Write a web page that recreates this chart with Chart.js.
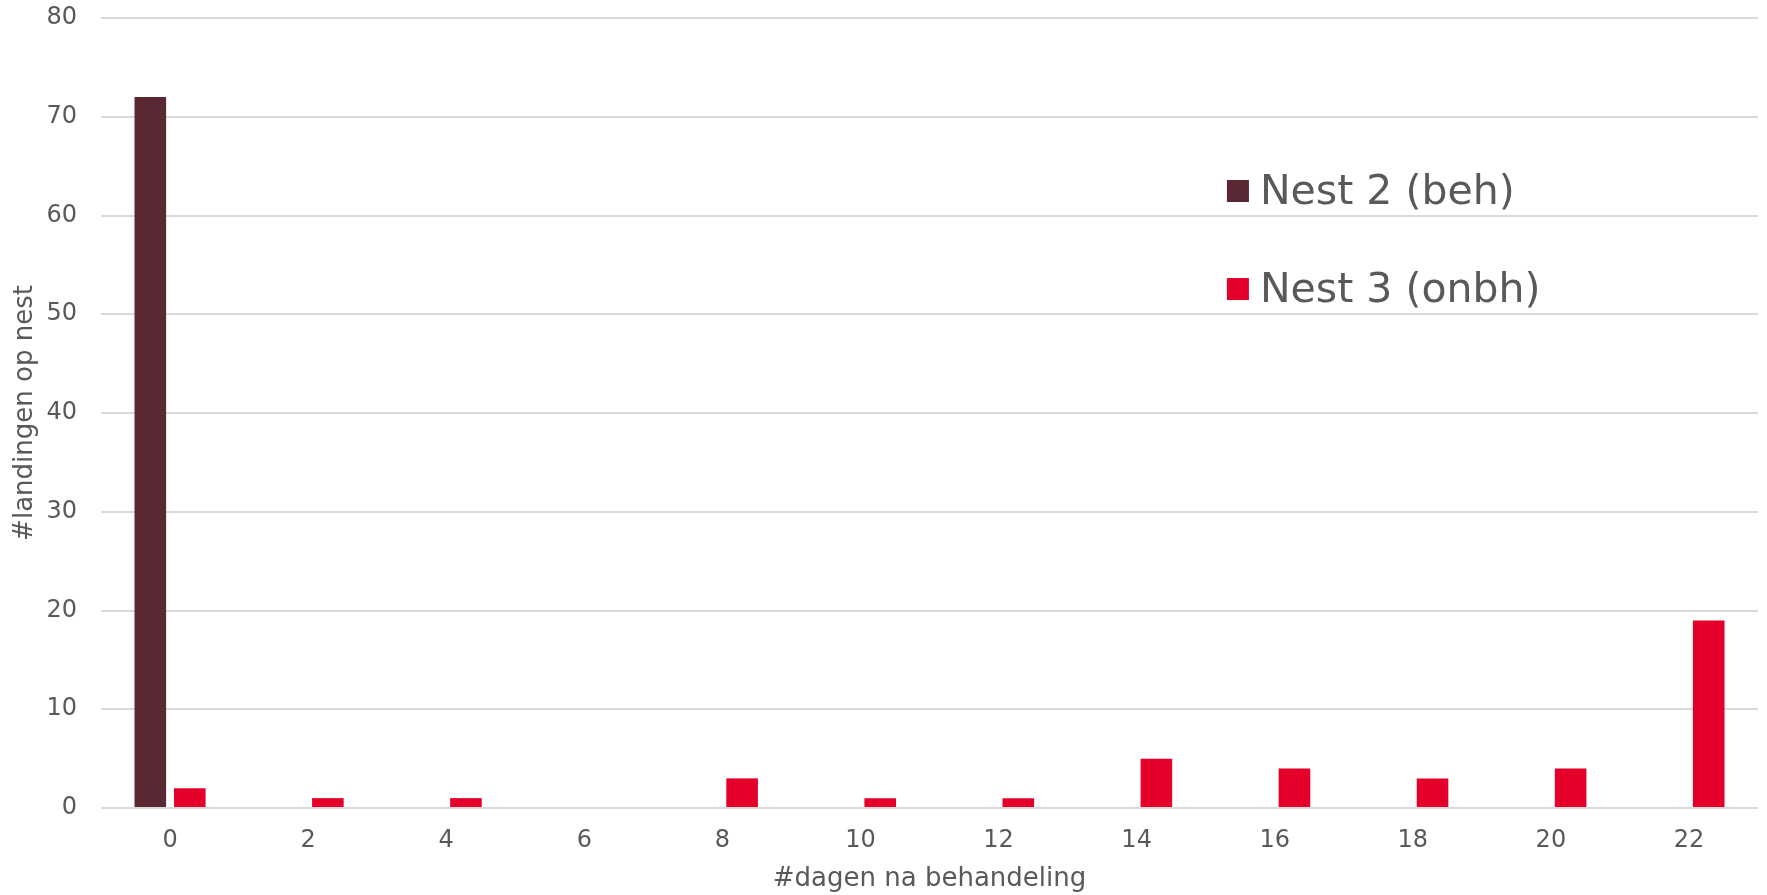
<!DOCTYPE html>
<html>
<head>
<meta charset="utf-8">
<script src="https://cdn.jsdelivr.net/npm/chart.js@4"></script>
<style>
  html, body { margin: 0; padding: 0; background: #ffffff; }
  #wrap { position: relative; width: 1767px; height: 895px; }
</style>
</head>
<body>
<div id="wrap"><canvas id="c"></canvas></div>
<script>
const categories = ['0', '2', '4', '6', '8', '10', '12', '14', '16', '18', '20', '22'];
const nest2Label = 'Nest 2 (beh)';
const nest2Values = [72, 0, 0, 0, 0, 0, 0, 0, 0, 0, 0, 0];
const nest3Label = 'Nest 3 (onbh)';
const nest3Values = [2, 1, 1, 0, 3, 1, 1, 5, 4, 3, 4, 19];
const yTicks = [0, 10, 20, 30, 40, 50, 60, 70, 80];
const xTitle = '#dagen na behandeling';
const yTitle = '#landingen op nest';

const TEXT = '#595959';
const FONT = 'DejaVu Sans, Verdana, sans-serif';

const insideLegend = {
  id: 'insideLegend',
  afterDraw(chart) {
    const ctx = chart.ctx;
    const a = chart.chartArea;
    const x0 = a.left + (a.right - a.left) * 0.6795;
    const ys = [a.top + (a.bottom - a.top) * 0.2190, a.top + (a.bottom - a.top) * 0.3431];
    ctx.save();
    ctx.font = '41px ' + FONT;
    ctx.textBaseline = 'middle';
    ctx.textAlign = 'left';
    chart.data.datasets.forEach((ds, i) => {
      const y = ys[i];
      ctx.fillStyle = ds.backgroundColor;
      ctx.fillRect(x0, y - 11, 22, 22);
      ctx.fillStyle = TEXT;
      ctx.fillText(ds.label, x0 + 33, y + 2);
    });
    ctx.restore();
  }
};

new Chart(document.getElementById('c'), {
  type: 'bar',
  data: {
    labels: categories,
    datasets: [
      { label: nest2Label, data: nest2Values, backgroundColor: '#5A2832', borderWidth: 0,
        categoryPercentage: 0.572, barPercentage: 0.8 },
      { label: nest3Label, data: nest3Values, backgroundColor: '#E4002B', borderWidth: 0,
        categoryPercentage: 0.572, barPercentage: 0.8 }
    ]
  },
  options: {
    responsive: true,
    maintainAspectRatio: false,
    devicePixelRatio: 1,
    animation: false,
    layout: { padding: { left: 0, right: 9, top: 0, bottom: 0 } },
    plugins: {
      legend: { display: false },
      tooltip: { enabled: false }
    },
    scales: {
      x: {
        grid: { display: false, drawTicks: false },
        border: { display: false },
        ticks: { color: TEXT, font: { family: FONT, size: 24 }, padding: 18, maxRotation: 0 },
        title: { display: true, text: xTitle, color: TEXT, font: { family: FONT, size: 26 },
                 padding: { top: 0, bottom: 0 } },
        afterFit(s) { s.height = 87; }
      },
      y: {
        min: 0, max: 80,
        afterBuildTicks(s) { s.ticks = yTicks.map(v => ({ value: v })); },
        grid: { color: '#d9d9d9', lineWidth: 2, drawTicks: false },
        border: { display: false },
        ticks: { color: TEXT, font: { family: FONT, size: 24 }, padding: 24 },
        title: { display: true, text: yTitle, color: TEXT, font: { family: FONT, size: 26 },
                 padding: { top: 10, bottom: 0 } },
        afterFit(s) { s.width = 101; s.paddingTop = 18; s.paddingBottom = 0; }
      }
    }
  },
  plugins: [insideLegend]
});
</script>
</body>
</html>
